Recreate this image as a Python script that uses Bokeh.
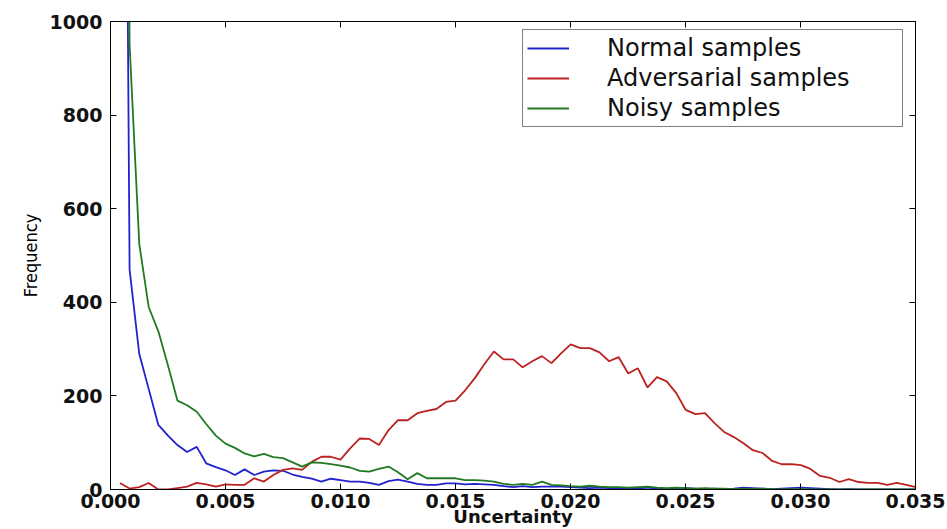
from bokeh.plotting import figure
from bokeh.models import FixedTicker, PrintfTickFormatter, LinearAxis, Range1d
from bokeh.embed import file_html
from bokeh.resources import INLINE

# Bin centers (uncertainty) of the histograms
uncertainty = [0.00041, 0.00083, 0.00125, 0.00166, 0.00208, 0.00250, 0.00291, 0.00333, 0.00375, 0.00416,
               0.00458, 0.00500, 0.00541, 0.00583, 0.00625, 0.00667, 0.00708, 0.00750, 0.00792, 0.00833,
               0.00875, 0.00917, 0.00958, 0.01000, 0.01042, 0.01084, 0.01125, 0.01167, 0.01209, 0.01250,
               0.01292, 0.01334, 0.01375, 0.01417, 0.01459, 0.01500, 0.01542, 0.01584, 0.01626, 0.01667,
               0.01709, 0.01751, 0.01792, 0.01834, 0.01876, 0.01917, 0.01959, 0.02001, 0.02043, 0.02084,
               0.02126, 0.02168, 0.02209, 0.02251, 0.02293, 0.02335, 0.02376, 0.02418, 0.02460, 0.02501,
               0.02543, 0.02585, 0.02626, 0.02668, 0.02710, 0.02752, 0.02793, 0.02835, 0.02877, 0.02918,
               0.02960, 0.03002, 0.03043, 0.03085, 0.03127, 0.03169, 0.03210, 0.03252, 0.03294, 0.03335,
               0.03377, 0.03419, 0.03460, 0.03502]

normal = [3400, 470, 290, 215, 138, 115, 95, 80, 91, 56,
          48, 41, 31, 43, 31, 38, 41, 40, 32, 27,
          23, 17, 23, 20, 17, 17, 14, 10, 18, 21,
          17, 12, 10, 10, 13, 13, 11, 12, 11, 10,
          7, 5, 7, 5, 6, 6, 6, 5, 4, 3,
          4, 3, 2, 3, 2, 4, 2, 1, 2, 3,
          2, 1, 2, 1, 2, 4, 3, 2, 1, 2,
          3, 4, 3, 2, 1, 0, 1, 0, 0, 0,
          0, 0, 0, 0]

adversarial = [14, 2, 5, 14, 0, 0, 3, 6, 14, 11,
               6, 11, 10, 10, 24, 17, 31, 42, 45, 42,
               59, 70, 70, 64, 88, 109, 108, 95, 127, 148,
               148, 163, 168, 172, 187, 190, 212, 238, 268, 295,
               278, 278, 261, 274, 285, 270, 291, 310, 302, 302,
               293, 274, 283, 248, 259, 218, 240, 231, 206, 170,
               161, 163, 142, 123, 112, 99, 84, 78, 61, 54,
               54, 52, 44, 29, 25, 16, 22, 16, 14, 14,
               10, 14, 10, 5]

noisy = [4200, 950, 525, 390, 338, 265, 190, 180, 166, 140,
         115, 98, 89, 77, 71, 76, 69, 67, 58, 49,
         58, 57, 54, 51, 47, 40, 38, 44, 49, 37,
         22, 35, 24, 24, 24, 24, 20, 20, 19, 17,
         12, 10, 12, 10, 17, 10, 9, 7, 6, 8,
         6, 5, 5, 4, 5, 6, 4, 3, 4, 3,
         2, 3, 2, 2, 1, 2, 1, 2, 1, 0,
         1, 1, 0, 0, 0, 0, 0, 0, 0, 0,
         0, 0, 0, 0]

x_ticks = [0.000, 0.005, 0.010, 0.015, 0.020, 0.025, 0.030, 0.035]
y_ticks = [0, 200, 400, 600, 800, 1000]

series_names = ["Normal samples", "Adversarial samples", "Noisy samples"]
series_colors = ["#2222cc", "#bb2222", "#217a21"]

p = figure(width=947, height=529, output_backend="svg", toolbar_location=None,
           x_range=Range1d(0, 0.035), y_range=Range1d(0, 1000),
           min_border_left=110, min_border_right=32, min_border_top=21, min_border_bottom=40)

p.background_fill_color = "white"
p.border_fill_color = "white"
p.outline_line_color = "black"
p.outline_line_width = 1
p.xgrid.visible = False
p.ygrid.visible = False

for ys, name, col in zip([normal, adversarial, noisy], series_names, series_colors):
    p.line(uncertainty, ys, line_color=col, line_width=1.8, legend_label=name)

tick_font = "DejaVu Sans"
for ax in p.xaxis:
    ax.ticker = FixedTicker(ticks=x_ticks)
    ax.formatter = PrintfTickFormatter(format="%.3f")
for ax in p.yaxis:
    ax.ticker = FixedTicker(ticks=y_ticks)

for ax in list(p.xaxis) + list(p.yaxis):
    ax.major_tick_in = 6
    ax.major_tick_out = 0
    ax.minor_tick_line_color = None
    ax.axis_line_color = "black"
    ax.major_tick_line_color = "black"
    ax.major_label_text_font = tick_font
    ax.major_label_text_font_size = "19px"
    ax.major_label_text_font_style = "bold"
    ax.major_label_text_color = "#111111"

p.xaxis.major_label_standoff = 4
p.xaxis.axis_label = "Uncertainty"
p.xaxis.axis_label_text_font = "DejaVu Sans"
p.xaxis.axis_label_text_font_style = "bold"
p.xaxis.axis_label_text_font_size = "18px"
p.xaxis.axis_label_text_color = "#111111"
p.xaxis.axis_label_standoff = -5

p.yaxis.major_label_standoff = 8
p.yaxis.axis_label = "Frequency"
p.yaxis.axis_label_text_font = "DejaVu Sans Condensed, Liberation Sans Narrow, sans-serif"
p.yaxis.axis_label_text_font_style = "normal"
p.yaxis.axis_label_text_font_size = "18px"
p.yaxis.axis_label_text_color = "black"
p.yaxis.axis_label_standoff = 6

# Ticks on top and right (no labels), matplotlib style
top = LinearAxis(ticker=FixedTicker(ticks=x_ticks))
right = LinearAxis(ticker=FixedTicker(ticks=y_ticks))
for ax in (top, right):
    ax.major_tick_in = 6
    ax.major_tick_out = 0
    ax.minor_tick_line_color = None
    ax.major_label_text_font_size = "1px"
    ax.major_label_text_alpha = 0
    ax.major_label_standoff = 0
    ax.axis_line_color = "black"
p.add_layout(top, "above")
p.add_layout(right, "right")

lg = p.legend[0]
lg.location = (412, 362)
lg.border_line_color = "black"
lg.border_line_width = 1
lg.background_fill_color = "white"
lg.background_fill_alpha = 1
lg.label_text_font = "DejaVu Sans"
lg.label_text_font_size = "24px"
lg.label_text_color = "#111111"
lg.glyph_width = 42
lg.glyph_height = 22
lg.label_height = 22
lg.label_width = 291
lg.label_standoff = 38
lg.spacing = 2
lg.padding = 4
lg.margin = 0

open("out.html", "w").write(file_html(p, INLINE))
